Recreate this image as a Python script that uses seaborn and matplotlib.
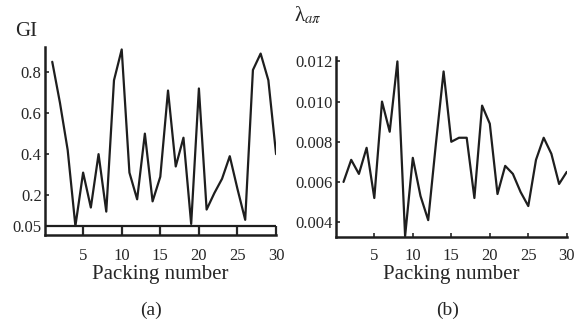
import numpy as np
import pandas as pd
import seaborn as sns
from matplotlib import pyplot as plt

# packing number 1..30
packing = list(range(1, 31))

# GI values (panel a)
gi = [0.85, 0.65, 0.42, 0.05, 0.31, 0.14, 0.40, 0.12, 0.76, 0.91,
      0.31, 0.18, 0.50, 0.17, 0.29, 0.71, 0.34, 0.48, 0.06, 0.72,
      0.13, 0.21, 0.28, 0.39, 0.23, 0.08, 0.81, 0.89, 0.76, 0.40]

# lambda values (panel b)
lam = [0.0060, 0.0071, 0.0064, 0.0077, 0.0052, 0.0100, 0.0085, 0.0120, 0.0033, 0.0072,
       0.0053, 0.0041, 0.0079, 0.0115, 0.0080, 0.0082, 0.0082, 0.0052, 0.0098, 0.0089,
       0.0054, 0.0068, 0.0064, 0.0055, 0.0048, 0.0071, 0.0082, 0.0074, 0.0059, 0.0065]

xticks = [5, 10, 15, 20, 25, 30]
gi_ticks = [0.05, 0.2, 0.4, 0.6, 0.8]
gi_labels = ["0.05", "0.2", "0.4", "0.6", "0.8"]
lam_ticks = [0.004, 0.006, 0.008, 0.010, 0.012]
lam_labels = ["0.004", "0.006", "0.008", "0.010", "0.012"]

df = pd.DataFrame({"n": packing, "gi": gi, "lam": lam})

sns.set_style("ticks")
plt.rcParams["font.family"] = ["Liberation Serif", "DejaVu Serif"]
plt.rcParams["mathtext.fontset"] = "stix"

fig = plt.figure(figsize=(5.76, 3.2), dpi=100)
ax1 = fig.add_axes([0.0773, 0.2656, 0.402, 0.5875])
ax2 = fig.add_axes([0.583, 0.2594, 0.401, 0.5625])

lc = "#1e1e1e"
sns.lineplot(data=df, x="n", y="gi", ax=ax1, color=lc, lw=1.6)
sns.lineplot(data=df, x="n", y="lam", ax=ax2, color=lc, lw=1.6)

# panel a
ax1.set_xlim(0, 30)
ax1.set_ylim(0.006, 0.922)
ax1.axhline(0.05, color=lc, lw=1.6, zorder=1)
ax1.set_xticks(xticks)
ax1.set_yticks(gi_ticks)
ax1.set_yticklabels(gi_labels)
ax1.tick_params(axis="x", direction="in", length=6.5, width=1.6, labelsize=12, pad=9)
ax1.tick_params(axis="y", direction="in", length=3, width=1.2, labelsize=12, pad=2)
ax1.set_xlabel("Packing number", fontsize=15, labelpad=1)
ax1.set_ylabel("")

# panel b
ax2.set_xlim(0, 30)
ax2.set_ylim(0.00326, 0.01222)
ax2.set_xticks(xticks)
ax2.set_yticks(lam_ticks)
ax2.set_yticklabels(lam_labels)
ax2.tick_params(axis="x", direction="in", length=3, width=1.2, labelsize=12, pad=8)
ax2.tick_params(axis="y", direction="in", length=3, width=1.2, labelsize=12, pad=2)
ax2.set_xlabel("Packing number", fontsize=15, labelpad=1)
ax2.set_ylabel("")

for ax in (ax1, ax2):
    sns.despine(ax=ax)
    for s in ("left", "bottom"):
        ax.spines[s].set_linewidth(1.8)
        ax.spines[s].set_color(lc)

fig.text(0.045, 0.90, "GI", fontsize=15, ha="center", va="center")
fig.text(0.535, 0.953, "λ$_{a\\pi}$", fontsize=15, ha="center", va="center")
fig.text(0.263, 0.03, "(a)", fontsize=14, ha="center", va="center")
fig.text(0.777, 0.03, "(b)", fontsize=14, ha="center", va="center")

fig.savefig("out.png", dpi=100)
